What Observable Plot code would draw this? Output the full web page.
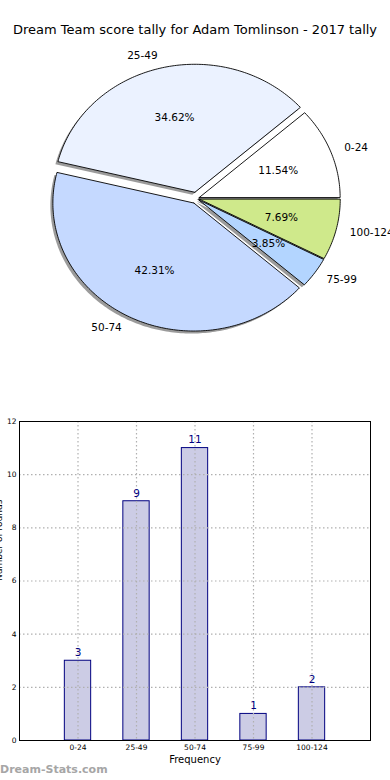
<!DOCTYPE html>
<html><head><meta charset="utf-8">
<script src="https://cdn.jsdelivr.net/npm/d3@7"></script>
<script src="https://cdn.jsdelivr.net/npm/@observablehq/plot@0.6"></script>
<style>
body{margin:0;background:#fff;font-family:"DejaVu Sans",sans-serif;width:390px;height:780px;overflow:hidden;position:relative}
#title{position:absolute;left:0;top:22px;width:390px;text-align:center;font-size:13px;line-height:16px;color:#000;white-space:nowrap}
#pie{position:absolute;top:40px;left:0}
#bar{position:absolute;top:400px;left:0}
#wm{position:absolute;left:0;top:763px;font-size:11px;line-height:14px;color:#a6a6a6;font-weight:bold}
</style></head><body>
<div id="title">Dream Team score tally for Adam Tomlinson - 2017 tally</div>
<div id="pie"></div>
<div id="bar"></div>
<div id="wm">Dream-Stats.com</div>
<script>
// ---- data ----
const categories = ["0-24", "25-49", "50-74", "75-99", "100-124"];
const counts = [3, 9, 11, 1, 2];
const pieColors = ["#ffffff", "#ebf2ff", "#c5d9ff", "#b3d5ff", "#cfe98b"];
const explode = [0.02, 0.05, 0.04, 0.02, 0.02];
const yTicks = [0, 2, 4, 6, 8, 10, 12];
const xLabel = "Frequency";
const yLabel = "Number of rounds";

// ---- pie geometry (unit-circle data space) ----
const total = d3.sum(counts);
const wedgePts = [], labelPts = [], pctPts = [];
let start = 0;
categories.forEach((c, i) => {
  const sweep = counts[i] / total * 360;
  const a0 = start, a1 = start + sweep, mid = (a0 + a1) / 2;
  const rad = mid * Math.PI / 180;
  const cx = explode[i] * Math.cos(rad), cy = explode[i] * Math.sin(rad);
  wedgePts.push({key: c, x: cx, y: cy});
  const n = Math.max(2, Math.ceil(sweep));
  for (let k = 0; k <= n; k++) {
    const a = (a0 + (a1 - a0) * k / n) * Math.PI / 180;
    wedgePts.push({key: c, x: cx + Math.cos(a), y: cy + Math.sin(a)});
  }
  wedgePts.push({key: c, x: cx, y: cy});
  labelPts.push({key: c, x: cx + 1.1 * Math.cos(rad), y: cy + 1.1 * Math.sin(rad), right: Math.cos(rad) >= 0});
  pctPts.push({text: (counts[i] / total * 100).toFixed(2) + "%", x: cx + 0.6 * Math.cos(rad), y: cy + 0.6 * Math.sin(rad)});
  start = a1;
});

const RX = 141, RY = 128, CX = 196, CY = 158, PW = 390, PH = 360;
const pie = Plot.plot({
  width: PW, height: PH, margin: 0,
  style: {fontFamily: "DejaVu Sans", background: "transparent"},
  x: {domain: [-CX / RX, (PW - CX) / RX], range: [0, PW], axis: null},
  y: {domain: [-(PH - CY) / RY, CY / RY], range: [PH, 0], axis: null},
  color: {domain: categories, range: pieColors},
  marks: [
    Plot.line(wedgePts, {x: "x", y: "y", z: "key", fill: "#707070", fillOpacity: 0.7, stroke: "none", dx: -2.5, dy: 2.5}),
    Plot.line(wedgePts, {x: "x", y: "y", z: "key", fill: "key", stroke: "#000", strokeWidth: 0.9}),
    Plot.text(labelPts.filter(d => d.right), {x: "x", y: "y", text: "key", textAnchor: "start", fontSize: 10.5, fill: "#000"}),
    Plot.text(labelPts.filter(d => !d.right), {x: "x", y: "y", text: "key", textAnchor: "end", fontSize: 10.5, fill: "#000"}),
    Plot.text(pctPts, {x: "x", y: "y", text: "text", fontSize: 10.5, fill: "#000"})
  ]
});
document.getElementById("pie").appendChild(pie);

// ---- bar chart ----
const barData = categories.map((c, i) => ({cat: c, i, count: counts[i]}));
const bar = Plot.plot({
  width: 390, height: 380,
  marginTop: 21, marginBottom: 40, marginLeft: 19, marginRight: 20,
  style: {fontFamily: "DejaVu Sans", background: "transparent", overflow: "visible"},
  x: {domain: [-1, 5]},
  y: {domain: [0, 12]},
  marks: [
    Plot.rectY(barData, {x1: d => d.i - 0.225, x2: d => d.i + 0.225, y: "count", fill: "#ccccE5", stroke: "#000080", strokeWidth: 1}),
    Plot.ruleX(barData, {x: "i", stroke: "#b0b0b0", strokeDasharray: "1.5,2.5", strokeWidth: 1.2}),
    Plot.ruleY(yTicks, {stroke: "#b0b0b0", strokeDasharray: "1.5,2.5", strokeWidth: 1.2}),
    Plot.text(barData, {x: "i", y: "count", text: d => String(d.count), dy: -8, fill: "#000080", fontSize: 10.5}),
    Plot.frame({stroke: "#000", strokeWidth: 1}),
    Plot.axisY({ticks: yTicks, tickSize: 0, tickPadding: 3, fontSize: 7.5, label: null, color: "#000"}),
    Plot.axisX({ticks: barData.map(d => d.i), tickFormat: i => categories[i], tickSize: 0, tickPadding: 4, fontSize: 7.5, label: null, color: "#000"}),
    Plot.text([xLabel], {frameAnchor: "bottom", dy: 22, fontSize: 10, fill: "#000"}),
    Plot.text([yLabel], {frameAnchor: "left", rotate: -90, dx: -18, lineAnchor: "bottom", fontSize: 9, fill: "#000"})
  ]
});
document.getElementById("bar").appendChild(bar);
</script>
</body></html>
